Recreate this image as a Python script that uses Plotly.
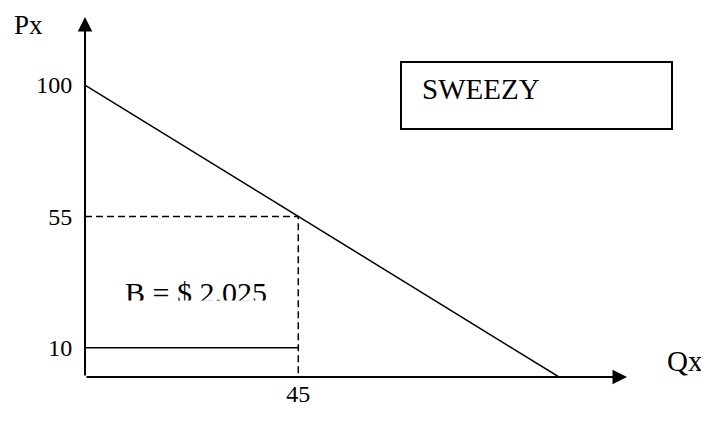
import plotly.graph_objects as go

# ---- data ----
demand_q = [0, 100]          # demand curve: P = 100 - Q
demand_p = [100, 0]
q_star = 45                  # quantity at the kink
p_star = 55                  # price at the kink
unit_cost = 10               # cost level
price_ticks = [100, 55, 10]
qty_ticks = [45]
profit_label = "B = $ 2.025"
model_label = "SWEEZY"
x_title = "Qx"
y_title = "Px"

# ---- layout geometry (target pixels of the page; body has an 8px margin) ----
OFF = 8
W, H = 709 - OFF, 421 - OFF
ORIGIN_X, ORIGIN_Y = 85, 377        # page pixels of the axes origin
TIP_X, TIP_Y = 627, 17              # page pixels of the arrow tips
L, T = ORIGIN_X - OFF, TIP_Y - OFF
R = W - (TIP_X - OFF)
B = H - (ORIGIN_Y - OFF)
PW, PH = W - L - R, H - T - B
QMAX = 114.35      # x-axis arrow tip (in Q units)
PMAX = 123.3       # y-axis arrow tip (in P units)
FONT = "Liberation Serif"


def px(x):
    return (x - OFF - L) / PW


def py(y):
    return (H - B - (y - OFF)) / PH


fig = go.Figure()
fig.add_trace(go.Scatter(x=demand_q, y=demand_p, mode="lines",
                         line=dict(color="black", width=1.5),
                         cliponaxis=False, hoverinfo="skip"))
fig.add_trace(go.Scatter(x=[0, q_star, q_star], y=[p_star, p_star, 0], mode="lines",
                         line=dict(color="black", width=1.5, dash="7px,4px"),
                         cliponaxis=False, hoverinfo="skip"))
fig.add_trace(go.Scatter(x=[0, q_star], y=[unit_cost, unit_cost], mode="lines",
                         line=dict(color="black", width=1.5),
                         cliponaxis=False, hoverinfo="skip"))

tickfont = dict(family=FONT, size=24, color="black")
fig.update_xaxes(range=[0, QMAX], tickvals=qty_ticks, ticktext=[str(v) for v in qty_ticks],
                 showgrid=False, zeroline=False, showline=False, automargin=False,
                 ticks="", tickfont=tickfont)
fig.update_yaxes(range=[0, PMAX], tickvals=price_ticks, ticktext=[str(v) for v in price_ticks],
                 showgrid=False, zeroline=False, showline=False, automargin=False,
                 ticks="outside", ticklen=7, tickcolor="rgba(0,0,0,0)", tickfont=tickfont)

arrow = dict(showarrow=True, arrowhead=2, arrowsize=1.45, arrowwidth=2,
             arrowcolor="black", text="", xref="x", yref="y", axref="x", ayref="y",
             standoff=0, startstandoff=0)
annotations = [
    dict(arrow, x=QMAX, y=0, ax=0, ay=0),
    dict(arrow, x=0, y=PMAX, ax=0, ay=0),
    dict(text=y_title, xref="paper", yref="paper", x=px(28.5), y=py(25),
         xanchor="center", yanchor="middle", showarrow=False,
         font=dict(family=FONT, size=27, color="black")),
    dict(text=x_title, xref="paper", yref="paper", x=px(685), y=py(361),
         xanchor="center", yanchor="middle", showarrow=False,
         font=dict(family=FONT, size=29, color="black")),
    dict(text=model_label, xref="paper", yref="paper", x=px(420), y=py(89),
         xanchor="left", yanchor="middle", showarrow=False,
         font=dict(family=FONT, size=29, color="black")),
    dict(text=profit_label, xref="paper", yref="paper", x=px(123), y=py(292),
         xanchor="left", yanchor="middle", showarrow=False,
         font=dict(family=FONT, size=30, color="black")),
    # the profit label is cut off at its lower edge in the original
    dict(text=" ", xref="paper", yref="paper", x=px(118), y=py(299.5),
         xanchor="left", yanchor="top", showarrow=False, width=160, height=14,
         bgcolor="white", borderpad=0, font=dict(size=4)),
]
fig.update_layout(annotations=annotations)

fig.add_shape(type="rect", xref="paper", yref="paper",
              x0=px(401), x1=px(672), y0=py(62), y1=py(129),
              line=dict(color="black", width=2), fillcolor="rgba(0,0,0,0)")

fig.update_layout(width=W, height=H, margin=dict(l=L, r=R, t=T, b=B),
                  paper_bgcolor="white", plot_bgcolor="white", showlegend=False)

fig.write_html("out.html")
